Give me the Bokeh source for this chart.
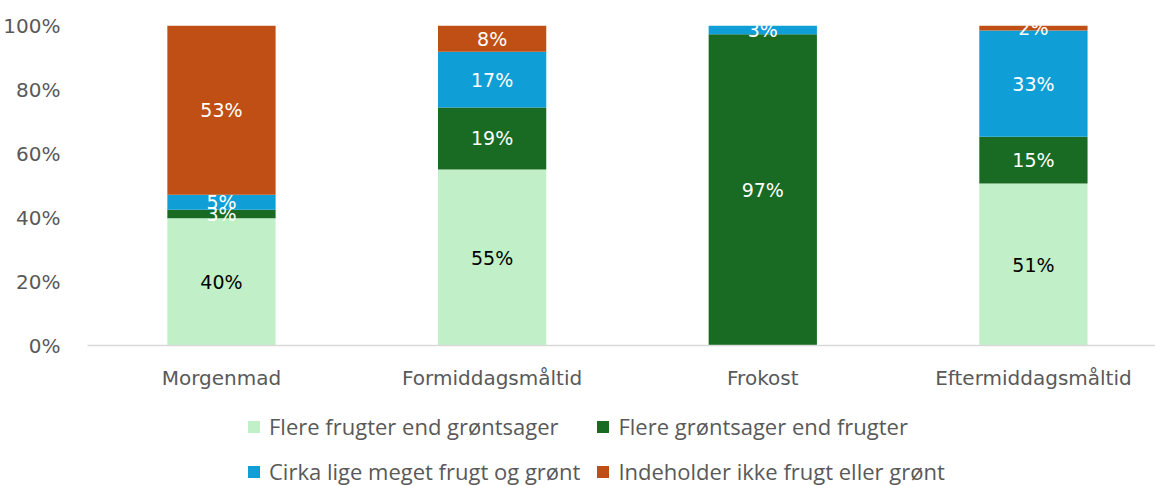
import numpy as np
from bokeh.plotting import figure
from bokeh.layouts import column
from bokeh.models import ColumnDataSource, Range1d, FixedTicker, Legend, LegendItem
from bokeh.core.properties import value
from bokeh.embed import file_html
from bokeh.resources import INLINE

categories = ["Morgenmad", "Formiddagsmåltid", "Frokost", "Eftermiddagsmåltid"]
series_names = [
    "Flere frugter end grøntsager",
    "Flere grøntsager end frugter",
    "Cirka lige meget frugt og grønt",
    "Indeholder ikke frugt eller grønt",
]
flere_frugter = [39.8, 55.0, 0.0, 50.6]
flere_groent = [2.6, 19.4, 97.3, 14.6]
cirka_lige = [4.7, 17.4, 2.7, 33.2]
ingen = [52.9, 8.2, 0.0, 1.6]
y_ticks = [0, 20, 40, 60, 80, 100]

colors = ["#C1F0C8", "#196B24", "#0F9ED5", "#C04F15"]
label_colors = ["#000000", "#FFFFFF", "#FFFFFF", "#FFFFFF"]
FONT = "DejaVu Sans"
LEG_FONT = "Open Sans"

series = [flere_frugter, flere_groent, cirka_lige, ingen]
x = list(range(len(categories)))
data = {"x": x}
keys = ["s0", "s1", "s2", "s3"]
for k, s in zip(keys, series):
    data[k] = s
source = ColumnDataSource(data)

p = figure(
    width=1155, height=400,
    x_range=Range1d(-0.495, 3.451), y_range=Range1d(0, 100),
    output_backend="svg", toolbar_location=None,
    min_border_left=87, min_border_right=0, min_border_top=25, min_border_bottom=55,
)
p.outline_line_color = None
p.xgrid.grid_line_color = None
p.ygrid.grid_line_color = None

renderers = p.vbar_stack(keys, x="x", width=0.4, color=colors, line_color=None, source=source)

# data labels
bottoms = np.zeros(len(categories))
for s, c in zip(series, label_colors):
    arr = np.array(s)
    mids = bottoms + arr / 2
    mask = arr > 0
    lab_src = ColumnDataSource(dict(
        x=[xi for xi, m in zip(x, mask) if m],
        y=list(mids[mask]),
        t=[f"{int(v + 0.5)}%" for v in arr[mask]],
    ))
    p.text(x="x", y="y", text="t", source=lab_src, text_align="center", text_baseline="middle",
           text_color=c, text_font=value(FONT), text_font_size="19px")
    bottoms = bottoms + arr

# axes
p.xaxis.ticker = FixedTicker(ticks=x)
p.xaxis.major_label_overrides = {i: c for i, c in zip(x, categories)}
p.xaxis.major_tick_line_color = None
p.xaxis.minor_tick_line_color = None
p.xaxis.axis_line_color = "#D9D9D9"
p.xaxis.axis_line_width = 1.5
p.xaxis.major_label_text_font = FONT
p.xaxis.major_label_text_font_size = "20px"
p.xaxis.major_label_text_color = "#595959"
p.xaxis.major_label_standoff = 14

p.yaxis.ticker = FixedTicker(ticks=y_ticks)
p.yaxis.major_label_overrides = {t: f"{t}%" for t in y_ticks}
p.yaxis.major_tick_line_color = None
p.yaxis.minor_tick_line_color = None
p.yaxis.axis_line_color = None
p.yaxis.major_label_text_font = FONT
p.yaxis.major_label_text_font_size = "20px"
p.yaxis.major_label_text_color = "#595959"
p.yaxis.major_label_standoff = 21

# legend in a separate strip below the chart
lf = figure(width=1155, height=86, x_range=Range1d(0, 1), y_range=Range1d(0, 1),
            output_backend="svg", toolbar_location=None,
            min_border_left=0, min_border_right=0, min_border_top=0, min_border_bottom=0)
lf.axis.visible = False
lf.grid.visible = False
lf.outline_line_color = None
leg_renderers = [lf.vbar(x=[0.5], top=[0.0], bottom=[0.0], width=0.0, color=c, line_color=None)
                 for c in colors]
items = [LegendItem(label=n, renderers=[r]) for n, r in zip(series_names, leg_renderers)]
legend = Legend(items=items, orientation="horizontal", ncols=2, location=(159, 0),
                label_text_font=LEG_FONT, label_text_font_size="22px", label_text_color="#595959",
                glyph_width=15, glyph_height=15, label_standoff=8, spacing=15,
                padding=3, margin=0, border_line_color=None, background_fill_alpha=0)
lf.add_layout(legend, "center")

open("out.html", "w").write(file_html(column(p, lf, spacing=0), INLINE))
